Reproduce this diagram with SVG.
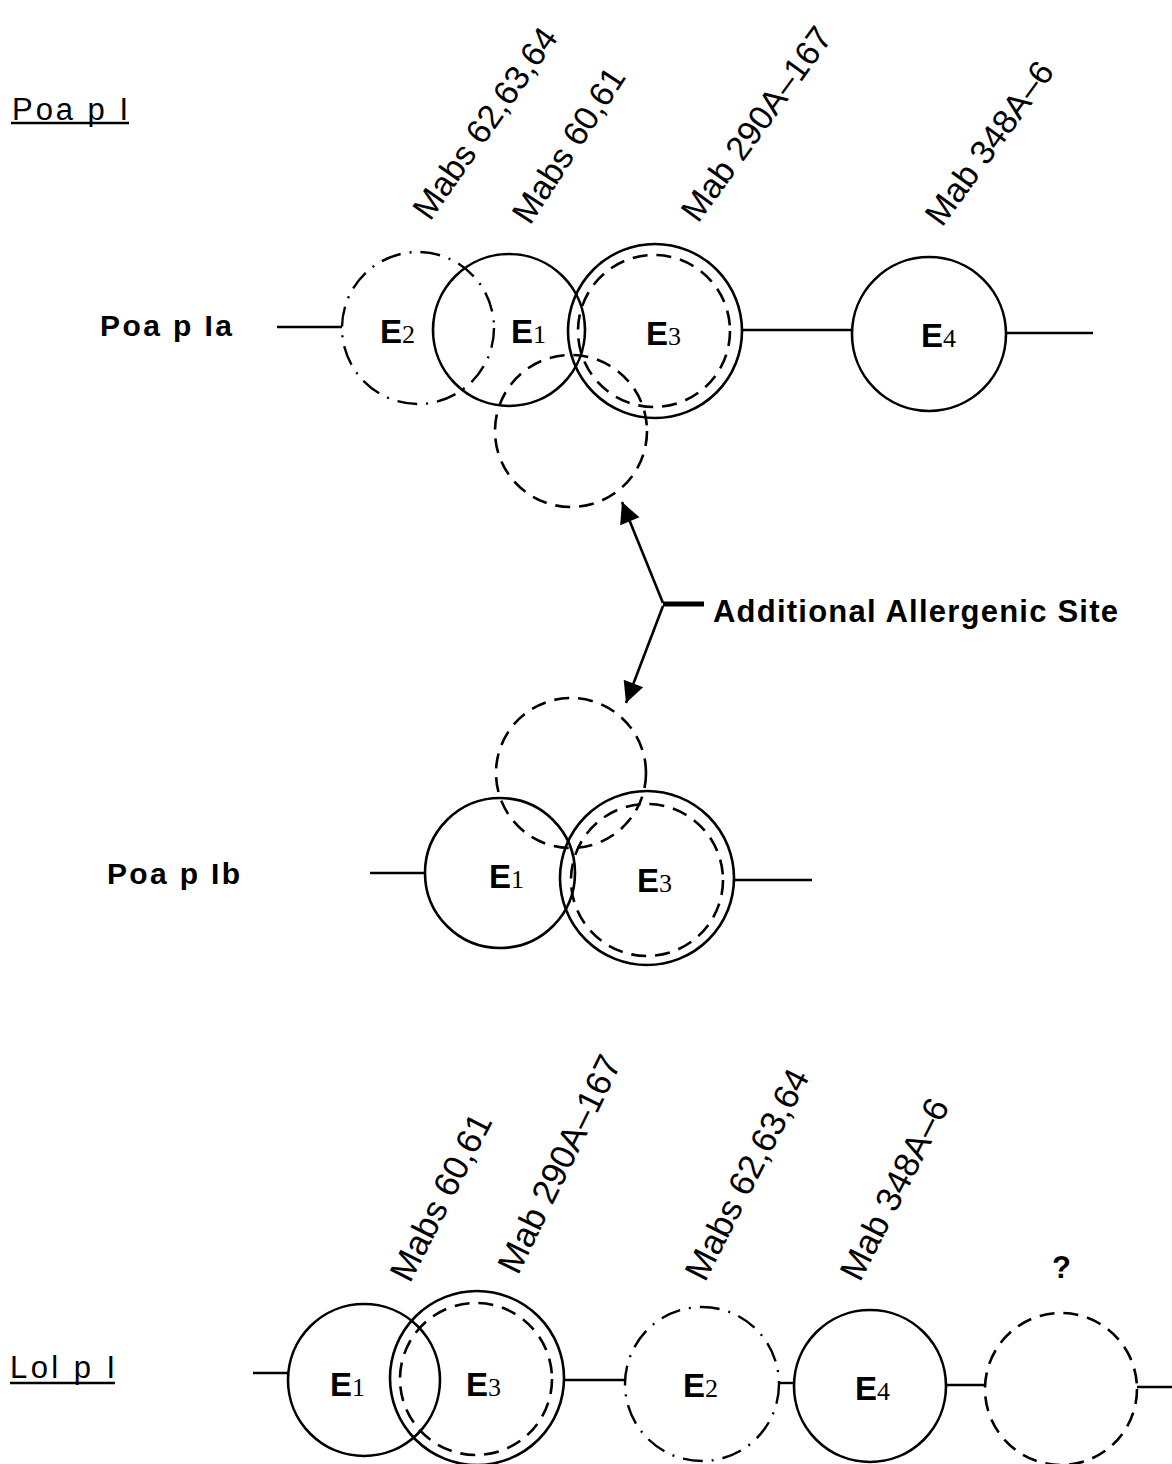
<svg xmlns="http://www.w3.org/2000/svg" width="1172" height="1464" viewBox="0 0 1172 1464">
<style>
  .bg{fill:#fff}
  .solid{fill:none;stroke:#000;stroke-width:2.6}
  .dash{fill:none;stroke:#000;stroke-width:2.6;stroke-dasharray:15 9}
  .dashdot{fill:none;stroke:#000;stroke-width:2.4;stroke-dasharray:20 9 2 9}
  .ln{fill:none;stroke:#000;stroke-width:2.4}
  .title{font-family:"Liberation Sans",Arial,sans-serif;font-size:31px;fill:#000}
  .row{font-family:"Liberation Sans",Arial,sans-serif;font-size:30px;font-weight:bold;fill:#000}
  .mab{font-family:"Liberation Sans",Arial,sans-serif;font-size:34px;fill:#000}
  .mab2{font-family:"Liberation Sans",Arial,sans-serif;font-size:35px;fill:#000}
  .e{font-family:"Liberation Sans",Arial,sans-serif;font-size:33px;font-weight:bold;fill:#000}
  .sub{font-family:"Liberation Serif","Times New Roman",serif;font-size:26px;font-weight:normal}
  .note{font-family:"Liberation Sans",Arial,sans-serif;font-size:31px;font-weight:bold;fill:#000}
</style>
<defs>
  <marker id="ah" viewBox="0 0 10 10" refX="10" refY="5" markerWidth="10" markerHeight="8" markerUnits="strokeWidth" orient="auto">
    <path d="M0,0 L10,5 L0,10 z" fill="#000"/>
  </marker>
</defs>
<rect class="bg" x="0" y="0" width="1172" height="1464"/>

<!-- Section titles -->
<g id="title-poa">
  <text class="title" x="12" y="120" textLength="116" lengthAdjust="spacing">Poa p I</text>
  <line class="ln" x1="11" y1="123" x2="129" y2="123"/>
</g>
<g id="title-lol">
  <text class="title" x="10" y="1378" textLength="105" lengthAdjust="spacing">Lol p I</text>
  <line class="ln" x1="10" y1="1383" x2="115" y2="1383"/>
</g>

<!-- Row labels -->
<text id="label-poa-ia" class="row" x="100" y="336" textLength="132" lengthAdjust="spacing">Poa p Ia</text>
<text id="label-poa-ib" class="row" x="107" y="884" textLength="133" lengthAdjust="spacing">Poa p Ib</text>

<!-- Antibody labels, Poa p I -->
<g id="mabs-poa">
  <text class="mab" transform="translate(430,222) rotate(-55)">Mabs 62,63,64</text>
  <text class="mab" transform="translate(530,226) rotate(-57)">Mabs 60,61</text>
  <text class="mab" transform="translate(698,224) rotate(-54)">Mab 290A–167</text>
  <text class="mab" transform="translate(942,228) rotate(-54)">Mab 348A–6</text>
</g>

<!-- Antibody labels, Lol p I -->
<g id="mabs-lol">
  <text class="mab2" transform="translate(410,1284) rotate(-63)">Mabs 60,61</text>
  <text class="mab2" transform="translate(518,1276) rotate(-64)">Mab 290A–167</text>
  <text class="mab2" transform="translate(705,1283) rotate(-63)">Mabs 62,63,64</text>
  <text class="mab2" transform="translate(860,1283) rotate(-63)">Mab 348A–6</text>
  <text class="note" x="1052" y="1278">?</text>
</g>

<!-- Connectors (backbone lines and arrows) -->
<g id="connectors">
  <line class="ln" x1="277" y1="327" x2="342" y2="327"/>
  <line class="ln" x1="742" y1="330" x2="852" y2="330"/>
  <line class="ln" x1="1006" y1="333" x2="1093" y2="333"/>

  <line class="ln" x1="370" y1="873" x2="424" y2="873"/>
  <line class="ln" x1="735" y1="880" x2="812" y2="880"/>

  <line class="ln" x1="253" y1="1373" x2="288" y2="1373"/>
  <line class="ln" x1="564" y1="1380" x2="626" y2="1380"/>
  <line class="ln" x1="778" y1="1383" x2="794" y2="1383"/>
  <line class="ln" x1="946" y1="1385" x2="985" y2="1385"/>
  <line class="ln" x1="1137" y1="1387" x2="1172" y2="1387"/>

  <line x1="663" y1="603" x2="622" y2="502" stroke="#000" stroke-width="2.6" marker-end="url(#ah)"/>
  <line x1="663" y1="606" x2="626" y2="703" stroke="#000" stroke-width="2.6" marker-end="url(#ah)"/>
  <line x1="663" y1="604" x2="704" y2="604" stroke="#000" stroke-width="5"/>
</g>

<!-- Poa p Ia -->
<g id="poa-ia-E2">
  <circle class="dashdot" cx="418" cy="328" r="76"/>
  <text class="e" x="380" y="343">E<tspan class="sub">2</tspan></text>
</g>
<g id="poa-ia-E1">
  <circle class="solid" cx="509" cy="330" r="76"/>
  <text class="e" x="511" y="343">E<tspan class="sub">1</tspan></text>
</g>
<g id="poa-ia-E3">
  <circle class="solid" cx="655" cy="331" r="87"/>
  <circle class="dash" cx="654" cy="331" r="76"/>
  <text class="e" x="646" y="345">E<tspan class="sub">3</tspan></text>
</g>
<g id="poa-ia-site">
  <circle class="dash" cx="571" cy="431" r="76"/>
</g>
<g id="poa-ia-E4">
  <circle class="solid" cx="929" cy="334" r="77"/>
  <text class="e" x="921" y="347">E<tspan class="sub">4</tspan></text>
</g>

<!-- Additional site label -->
<text id="label-site" class="note" x="713" y="622" textLength="405" lengthAdjust="spacing">Additional Allergenic Site</text>

<!-- Poa p Ib -->
<g id="poa-ib-site">
  <circle class="dash" cx="571" cy="773" r="75"/>
</g>
<g id="poa-ib-E1">
  <circle class="solid" cx="500" cy="873" r="75"/>
  <text class="e" x="489" y="888">E<tspan class="sub">1</tspan></text>
</g>
<g id="poa-ib-E3">
  <circle class="solid" cx="647" cy="878" r="87"/>
  <circle class="dash" cx="647" cy="880" r="76"/>
  <text class="e" x="637" y="892">E<tspan class="sub">3</tspan></text>
</g>

<!-- Lol p I -->
<g id="lol-E1">
  <circle class="solid" cx="364" cy="1380" r="76"/>
  <text class="e" x="330" y="1396">E<tspan class="sub">1</tspan></text>
</g>
<g id="lol-E3">
  <circle class="solid" cx="477" cy="1378" r="87"/>
  <circle class="dash" cx="476" cy="1379" r="76"/>
  <text class="e" x="466" y="1396">E<tspan class="sub">3</tspan></text>
</g>
<g id="lol-E2">
  <circle class="dashdot" cx="702" cy="1384" r="77"/>
  <text class="e" x="683" y="1397">E<tspan class="sub">2</tspan></text>
</g>
<g id="lol-E4">
  <circle class="solid" cx="870" cy="1386" r="76"/>
  <text class="e" x="855" y="1400">E<tspan class="sub">4</tspan></text>
</g>
<g id="lol-unknown">
  <circle class="dash" cx="1061" cy="1389" r="76"/>
</g>
</svg>
